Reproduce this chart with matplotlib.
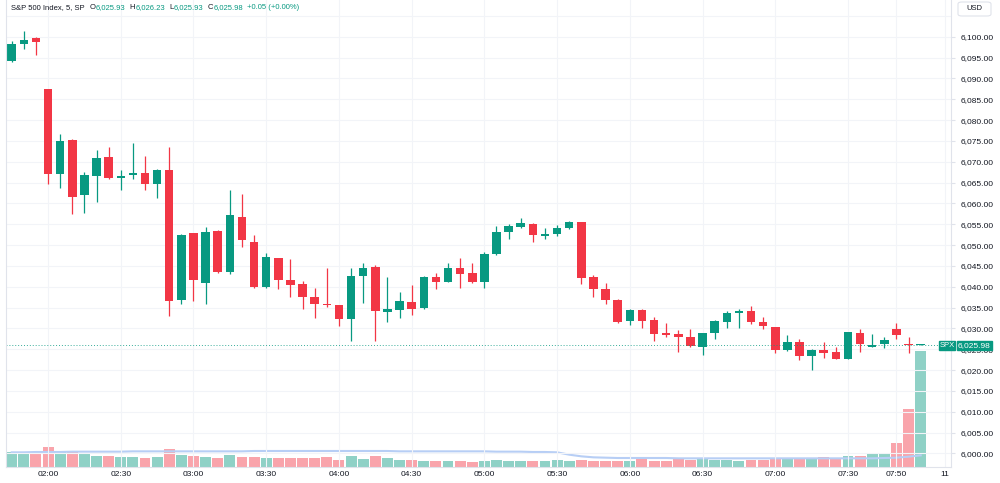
import matplotlib
matplotlib.use("Agg")
import matplotlib.pyplot as plt
from matplotlib.patches import Rectangle, FancyBboxPatch
from matplotlib import transforms
import numpy as np

plt.rcParams['font.family'] = ['Liberation Sans', 'DejaVu Sans']

# S&P 500 index, 5 minute candles (01:45 .. 08:00)
opens = np.array([6094.2, 6098.3, 6099.8, 6087.4, 6067.1, 6075.3, 6062.1, 6066.5, 6071.1, 6066.2,
                  6066.7, 6067.4, 6064.6, 6068.0, 6036.7, 6052.8, 6040.8, 6053.3, 6043.6, 6056.7,
                  6050.8, 6039.9, 6046.8, 6041.6, 6040.6, 6037.6, 6035.9, 6035.6, 6032.3, 6042.6,
                  6044.7, 6034.0, 6034.4, 6036.3, 6034.8, 6042.3, 6041.2, 6044.5, 6043.2, 6041.1,
                  6047.8, 6053.1, 6054.3, 6055.1, 6052.1, 6052.7, 6054.0, 6055.5, 6042.3, 6039.5,
                  6036.8, 6031.7, 6034.3, 6032.0, 6028.8, 6028.7, 6028.0, 6025.5, 6029.0, 6031.6,
                  6033.6, 6034.2, 6031.6, 6030.3, 6024.8, 6026.7, 6023.3, 6024.8, 6024.3, 6022.7,
                  6029.0, 6025.6, 6026.2, 6029.9, 6026.1, 6025.93])
highs = np.array([6099.0, 6101.4, 6099.9, 6087.5, 6076.6, 6075.5, 6067.6, 6072.8, 6073.5, 6068.0,
                  6074.5, 6071.4, 6068.3, 6073.5, 6052.7, 6052.9, 6054.3, 6053.5, 6063.1, 6062.2,
                  6052.4, 6048.0, 6047.0, 6046.6, 6041.4, 6039.6, 6044.6, 6035.7, 6044.6, 6045.6,
                  6045.1, 6042.3, 6038.7, 6040.3, 6042.5, 6043.2, 6045.6, 6047.0, 6045.6, 6048.4,
                  6054.6, 6055.0, 6056.4, 6055.2, 6054.0, 6054.7, 6055.8, 6055.6, 6042.7, 6040.8,
                  6037.1, 6034.6, 6034.7, 6032.8, 6031.3, 6029.6, 6029.8, 6028.9, 6031.9, 6034.2,
                  6034.7, 6035.4, 6032.7, 6030.4, 6028.3, 6027.5, 6025.0, 6026.7, 6025.5, 6029.2,
                  6029.8, 6028.6, 6027.9, 6031.2, 6027.9, 6026.23])
lows = np.array([6094.0, 6097.1, 6095.7, 6064.6, 6063.8, 6057.5, 6057.6, 6060.3, 6065.9, 6063.1,
                 6065.9, 6063.1, 6061.4, 6033.0, 6035.8, 6036.6, 6035.8, 6043.4, 6043.0, 6049.5,
                 6039.6, 6039.8, 6039.4, 6037.6, 6034.6, 6032.6, 6035.2, 6030.6, 6027.0, 6036.0,
                 6027.0, 6031.6, 6032.4, 6033.1, 6034.6, 6039.4, 6041.1, 6039.8, 6040.9, 6039.6,
                 6047.6, 6051.5, 6054.1, 6050.8, 6051.5, 6052.2, 6053.8, 6040.7, 6037.6, 6035.9,
                 6031.3, 6030.9, 6030.2, 6027.0, 6028.0, 6024.4, 6025.6, 6023.5, 6027.4, 6030.0,
                 6030.0, 6031.0, 6029.9, 6024.0, 6024.6, 6022.3, 6020.0, 6022.8, 6022.6, 6022.6,
                 6024.3, 6025.5, 6025.2, 6027.4, 6024.0, 6025.93])
closes = np.array([6098.2, 6099.3, 6098.7, 6067.0, 6075.0, 6061.5, 6066.7, 6071.0, 6066.0, 6066.6,
                   6067.4, 6064.6, 6068.0, 6036.6, 6052.5, 6041.6, 6053.1, 6043.5, 6057.3, 6051.2,
                   6040.0, 6047.1, 6041.6, 6040.4, 6037.6, 6035.8, 6035.5, 6032.3, 6042.6, 6044.6,
                   6034.2, 6034.7, 6036.5, 6034.7, 6042.4, 6041.1, 6044.6, 6043.1, 6041.1, 6047.9,
                   6053.2, 6054.5, 6055.2, 6052.4, 6052.6, 6054.2, 6055.5, 6042.1, 6039.4, 6036.8,
                   6031.6, 6034.3, 6031.8, 6028.7, 6028.5, 6027.9, 6025.8, 6028.9, 6031.8, 6033.6,
                   6034.2, 6031.5, 6030.6, 6024.8, 6026.7, 6023.3, 6024.8, 6024.2, 6022.7, 6029.1,
                   6026.2, 6025.9, 6027.1, 6028.4, 6025.9, 6025.98])
volume = np.array([44, 41, 40, 59, 44, 47, 38, 34, 32, 29, 31, 27, 31, 53, 36, 33, 31, 27, 35, 31,
                   31, 26, 28, 26, 26, 26, 29, 22, 34, 24, 34, 27, 20, 20, 18, 18, 18, 18, 16, 19,
                   22, 17, 18, 18, 18, 20, 17, 22, 18, 18, 18, 18, 23, 18, 18, 23, 20, 23, 20, 20,
                   18, 20, 20, 23, 23, 26, 28, 30, 26, 34, 34, 40, 43, 73, 174, 349])
vol_ma = np.array([44, 44, 45, 45, 45, 46, 46, 46, 46, 46, 47, 47, 47, 47, 47, 47, 47, 47, 47, 47,
                   48, 48, 48, 48, 48, 48, 48, 48, 48, 48, 48, 48, 47, 47, 47, 47, 47, 47, 47, 47,
                   46, 46, 46, 45, 45, 44, 37, 32, 29, 28, 27, 27, 27, 27, 27, 26, 26, 26, 26, 26,
                   26, 26, 26, 26, 26, 26, 26, 26, 26, 26, 26, 26, 27, 28, 31, 35])

tick_idx = [3, 9, 15, 21, 27, 33, 39, 45, 51, 57, 63, 69, 73, 77]
tick_lab = ['02:00', '02:30', '03:00', '03:30', '04:00', '04:30', '05:00', '05:30',
            '06:00', '06:30', '07:00', '07:30', '07:50', '11']
price_ticks = np.arange(6000, 6101, 5)

up_c = '#089981'
dn_c = '#F23645'
grid_c = '#F2F4F8'
txt_c = '#131722'
line_c = '#E0E3EB'

W, H = 1000, 483
fig = plt.figure(figsize=(W / 100, H / 100), dpi=100)
ax = fig.add_axes([6 / W, 16 / H, 945 / W, 467 / H])
vax = ax.twinx()
ax.set_zorder(2)
ax.patch.set_visible(False)
vax.set_zorder(1)

x = np.arange(len(closes))
cols = np.where(closes >= opens, up_c, dn_c)

# volume pane
vax.bar(x, volume, width=0.9, color=cols, alpha=0.45, linewidth=0)
vax.plot(x, vol_ma, color='#B7CEF5', lw=1.5)
vax.set_ylim(0, 1401)
vax.yaxis.set_visible(False)
for s in vax.spines.values():
    s.set_visible(False)

# candles
ax.vlines(x, lows, highs, colors=cols, lw=0.9)
body_lo = np.minimum(opens, closes)
body_h = np.maximum(np.abs(closes - opens), 0.25)
ax.bar(x, body_h, bottom=body_lo, width=0.7, color=cols, linewidth=0)

last = closes[-1]
ax.axhline(last, color=up_c, ls=(0, (1, 2)), lw=0.7, alpha=0.8)

ax.set_xlim(-0.47, 77.5)
ax.set_ylim(5996.74, 6108.81)

ax.set_yticks(price_ticks)
ax.set_yticklabels([f'{v:,.2f}' for v in price_ticks])
ax.yaxis.tick_right()
ax.tick_params(axis='y', length=3, pad=4, labelsize=6, colors=line_c, labelcolor=txt_c)
ax.set_xticks(tick_idx)
ax.set_xticklabels(tick_lab)
ax.tick_params(axis='x', length=0, pad=3, labelsize=6, labelcolor=txt_c)

# grid: every 5 pts incl. the hidden 5995 / 6105 lines
for v in np.arange(5995, 6106, 5):
    ax.axhline(v, color=grid_c, lw=0.8, zorder=0)
for t in tick_idx:
    ax.axvline(t, color=grid_c, lw=0.8, zorder=0)

ax.spines['top'].set_visible(False)
for k in ['left', 'right', 'bottom']:
    ax.spines[k].set_color(line_c)
    ax.spines[k].set_linewidth(0.8)

# last price tags
blend = transforms.blended_transform_factory(fig.transFigure, ax.transData)
hh = 9 / 4.167
fig.patches.append(Rectangle((939 / W, last - hh / 2), 16 / W, hh, transform=blend,
                             color=up_c, zorder=5))
fig.patches.append(Rectangle((957 / W, last - hh / 2), 35 / W, hh, transform=blend,
                             color=up_c, zorder=5))
fig.text(947 / W, last, 'SPX', transform=blend, ha='center', va='center',
         fontsize=5.5, color='white', zorder=6)
fig.text(974.5 / W, last, f'{last:,.2f}', transform=blend, ha='center', va='center',
         fontsize=6, color='white', zorder=6)

# currency box
fig.patches.append(FancyBboxPatch((958 / W, 1 - 16 / H), 33 / W, 14 / H,
                                  boxstyle='round,pad=0,rounding_size=0.004',
                                  transform=fig.transFigure, fc='white', ec=line_c, lw=0.8))
fig.text(974.5 / W, 1 - 9 / H, 'USD', ha='center', va='center', fontsize=5.5, color=txt_c)

# header legend, laid out piece by piece
chg = closes[-1] - opens[-1]
pieces = [('S&P 500 Index, 5, SP', txt_c, 5),
          ('O', txt_c, 0.5), (f'{opens[-1]:,.2f}', up_c, 4),
          ('H', txt_c, 0.5), (f'{highs[-1]:,.2f}', up_c, 4),
          ('L', txt_c, 0.5), (f'{lows[-1]:,.2f}', up_c, 4),
          ('C', txt_c, 0.5), (f'{closes[-1]:,.2f}', up_c, 4),
          (f'+{chg:.2f} (+{chg / opens[-1] * 100:.2f}%)', up_c, 0)]
r = fig.canvas.get_renderer()
xc = 11
for s, c, gap in pieces:
    t = fig.text(xc / W, 1 - 7.5 / H, s, fontsize=5.5, color=c, va='center')
    xc = t.get_window_extent(r).x1 + gap

fig.savefig('out.png', dpi=100, facecolor='white')
